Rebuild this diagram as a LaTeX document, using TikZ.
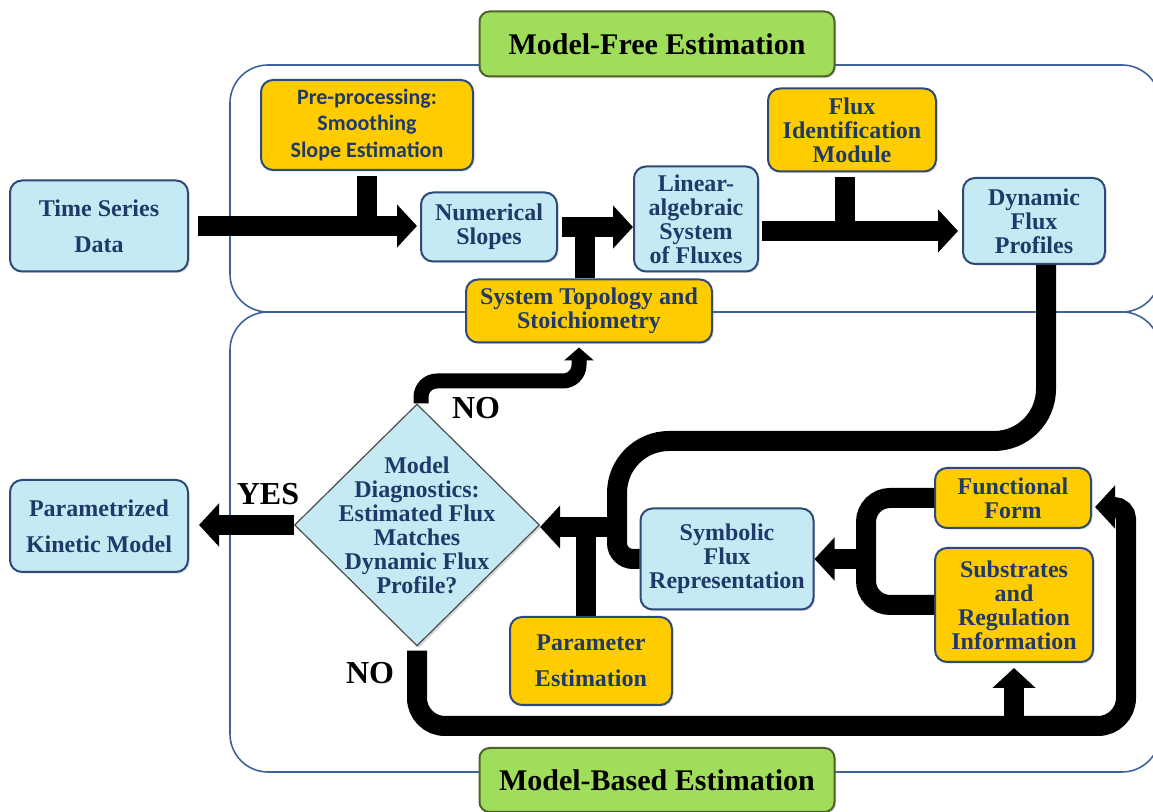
\documentclass[tikz,border=0pt]{standalone}
\usepackage{fontspec}
\setmainfont{Liberation Serif}
\newfontfamily\calibfont{Carlito}
\usetikzlibrary{shapes.geometric,arrows.meta,shadows,backgrounds}

\definecolor{boxblue}{RGB}{197,234,244}
\definecolor{boxyellow}{RGB}{255,204,0}
\definecolor{titlegreen}{RGB}{160,221,90}
\definecolor{inkblue}{RGB}{31,58,104}
\definecolor{boxedge}{RGB}{46,74,120}
\definecolor{greenedge}{RGB}{80,98,40}
\definecolor{regionedge}{RGB}{62,99,153}

\tikzset{
    box/.style={draw=boxedge, line width=1pt, rounded corners=6pt, align=center,
        text=inkblue, font=\bfseries\fontsize{12}{12}\selectfont, inner sep=2pt,
        drop shadow={opacity=0.25, shadow xshift=0.8pt, shadow yshift=-0.8pt}},
    bluebox/.style={box, fill=boxblue},
    yellowbox/.style={box, fill=boxyellow},
    titlebox/.style={draw=greenedge, line width=1pt, rounded corners=5pt, fill=titlegreen,
        font=\bfseries\fontsize{15}{15}\selectfont,
        drop shadow={opacity=0.25, shadow xshift=0.8pt, shadow yshift=-0.8pt}},
    decision/.style={diamond, draw=gray!60!black, line width=0.6pt, fill=boxblue,
        minimum width=122.5pt, minimum height=121pt, inner sep=0pt,
        drop shadow={opacity=0.3, shadow xshift=1pt, shadow yshift=-1pt}},
    flow/.style={line width=10pt, -{Triangle[length=10pt, width=21pt]}},
    bar/.style={line width=10pt},
    thinflow/.style={line width=7.5pt, -{Triangle[length=6.5pt, width=14.5pt]}},
    answer/.style={font=\bfseries\fontsize{16}{16}\selectfont},
    region/.style={draw=regionedge, line width=0.8pt, rounded corners=19pt}
}

\begin{document}
\begin{tikzpicture}[x=0.5pt, y=-0.5pt]
    \useasboundingbox (0,0) rectangle (1153,812);

    % Two estimation regions
    \begin{scope}[on background layer]
        \clip (0,0) rectangle (1153,812);
        \draw[region] (230,65) rectangle (1160,312);
        \draw[region] (230,312) rectangle (1160,772);
    \end{scope}

    % Model-free part
    \node[titlebox, minimum width=177.5pt, minimum height=32.5pt] (mfe) at (657,44) {Model-Free Estimation};
    \node[bluebox, minimum width=89pt, minimum height=45.5pt] (tsd) at (99,226) {Time Series\\[6pt]Data};
    \node[yellowbox, minimum width=106pt, minimum height=45pt,
        font=\calibfont\bfseries\fontsize{11}{13.3}\selectfont] (pre) at (367,125) {Pre-processing:\\Smoothing\\Slope Estimation};
    \node[bluebox, minimum width=68pt, minimum height=34.5pt] (nums) at (489,227) {Numerical\\Slopes};
    \node[bluebox, minimum width=62pt, minimum height=52.5pt] (lin) at (696,219) {Linear-\\algebraic\\System\\of Fluxes};
    \node[yellowbox, minimum width=84pt, minimum height=41.5pt] (fim) at (852,130) {Flux\\Identification\\Module};
    \node[bluebox, minimum width=71pt, minimum height=43pt] (dfp) at (1034,221) {Dynamic\\Flux\\Profiles};
    \node[yellowbox, minimum width=123pt, minimum height=31.5pt] (topo) at (589,311) {System Topology and\\Stoichiometry};

    % Model-based part
    \node[titlebox, minimum width=177.5pt, minimum height=32pt] (mbe) at (657,780) {Model-Based Estimation};
    \node[decision] (diag) at (417,525) {};
    \node[align=center, text=inkblue, font=\bfseries\fontsize{12}{12}\selectfont] (diagtext) at (diag)
        {Model\\Diagnostics:\\Estimated Flux\\Matches\\Dynamic Flux\\Profile?};
    \node[bluebox, minimum width=89pt, minimum height=46pt] (pkm) at (99,526) {Parametrized\\[6pt]Kinetic Model};
    \node[bluebox, minimum width=86.5pt, minimum height=50.5pt] (sfr) at (727,559) {Symbolic\\Flux\\Representation};
    \node[yellowbox, minimum width=78pt, minimum height=30pt] (ff) at (1013,498) {Functional\\Form};
    \node[yellowbox, minimum width=79pt, minimum height=57pt] (sri) at (1014,605) {Substrates\\and\\Regulation\\Information};
    \node[yellowbox, minimum width=81pt, minimum height=44pt] (pe) at (591,661) {Parameter\\[6pt]Estimation};

    % Answers
    \node[answer] (noup) at (476,408) {NO};
    \node[answer] (yes) at (268,494) {YES};
    \node[answer] (nodown) at (370,673) {NO};

    % Junction points
    \coordinate (fluxline) at ([yshift=-6pt]lin.east);
    \coordinate (loopturn) at (617,441);
    \coordinate (loopdrop) at (617,527);
    \coordinate (mergeline) at (867,559);
    \coordinate (retry) at (1126,726);
    \coordinate (rework) at ([xshift=-5pt,yshift=-18.75pt]topo.south);

    % Upper arrows
    \draw[flow, shorten <=4.5pt, shorten >=1.5pt] (tsd.east) -- (tsd.east -| nums.west);
    \draw[bar, shorten <=2.5pt] (pre.south) -- (pre.south |- tsd.east);
    \draw[flow, shorten <=2pt] (nums.east) -- (nums.east -| lin.west);
    \draw[bar] ([xshift=-2pt]topo.north) -- ([xshift=-2pt]topo.north |- nums.east);
    \draw[flow, shorten <=1.5pt, shorten >=2pt] (fluxline) -- (fluxline -| dfp.west);
    \draw[bar, shorten <=2.5pt] ([xshift=-3.5pt]fim.south) -- ([xshift=-3.5pt]fim.south |- fluxline);

    % Loop back into the model
    \draw[bar, rounded corners=26pt] ([xshift=6pt]dfp.south) |- (loopturn) [rounded corners=8pt] |- (sfr.west);
    \draw[flow] (loopdrop) -- (loopdrop -| diag.east);
    \draw[bar] ([xshift=-2.5pt]pe.north) -- ([xshift=-2.5pt]pe.north |- loopdrop);
    \draw[bar, rounded corners=12pt] (ff.west) -- ++(-68,0) |- (sri.west);
    \draw[flow] (mergeline) -- (mergeline -| sfr.east);

    % Decision outcomes
    \draw[flow, shorten >=5pt] (diag.west) -- (diag.west -| pkm.east);
    \draw[thinflow, rounded corners=8pt, shorten >=2pt] ([xshift=2pt]diag.north) |- (rework) -- ([xshift=-5pt]topo.south);
    \draw[flow, rounded corners=14pt, shorten <=2pt, shorten >=1.5pt] (diag.south) |- (retry) [rounded corners=6pt] |- ([yshift=-4.5pt]ff.east);
    \draw[flow, shorten >=2.5pt] (sri.south |- retry) -- (sri.south);
\end{tikzpicture}
\end{document}
